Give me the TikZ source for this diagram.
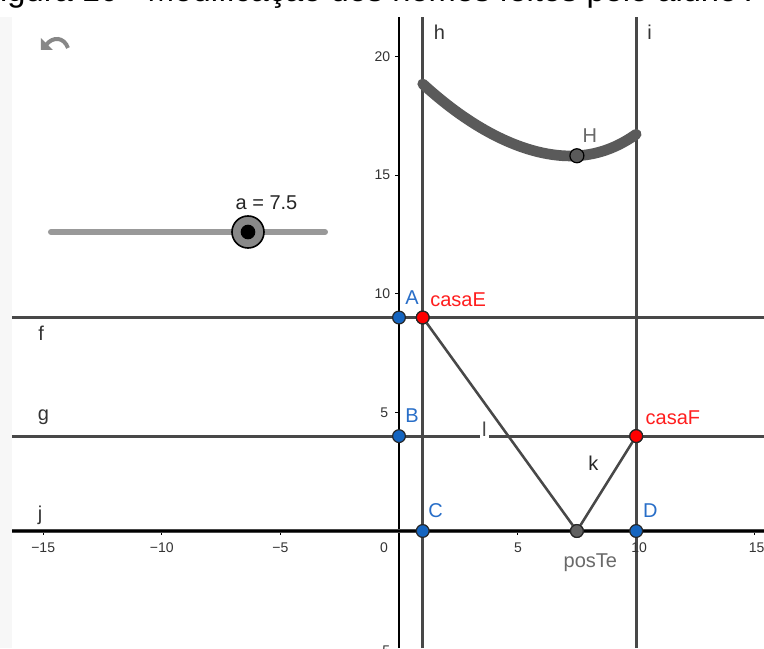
\documentclass[tikz,border=0pt]{standalone}
\usepackage{fontspec}
\setmainfont{Liberation Sans}
\definecolor{ptblue}{RGB}{21,101,192}
\definecolor{lblblue}{RGB}{40,110,200}
\definecolor{ptred}{RGB}{255,0,0}
\definecolor{lblred}{RGB}{255,30,30}
\definecolor{lngray}{RGB}{72,72,72}
\definecolor{crvgray}{RGB}{90,90,90}
\definecolor{ptgray}{RGB}{97,97,97}
\definecolor{lblgray}{RGB}{105,105,105}
\definecolor{sldgray}{RGB}{153,153,153}
\definecolor{knobgray}{RGB}{136,136,136}
\definecolor{icongray}{RGB}{135,135,135}
\definecolor{stripgray}{RGB}{247,247,247}
\begin{document}
\begin{tikzpicture}[x=17.79pt,y=17.79pt,
  gline/.style={draw=lngray,line width=2.3pt},
  seg/.style={draw=lngray,line width=1.9pt},
  axis/.style={draw=black,line width=0.9pt},
  tickmark/.style={draw=black,line width=0.8pt},
  crv/.style={draw=crvgray,line width=8pt,line cap=round},
  pt/.style={circle,draw=black!85,line width=0.9pt,inner sep=0pt,minimum size=9.6pt},
  bluept/.style={pt,fill=ptblue},
  redpt/.style={pt,fill=ptred},
  graypt/.style={pt,fill=ptgray},
  lbl/.style={font=\fontsize{15}{18}\selectfont,inner sep=0pt},
  axlbl/.style={font=\fontsize{10.5}{12}\selectfont,text=black!80,inner sep=0pt},
]
\useasboundingbox (-16.821,-4.933) rectangle (15.388,22.386);
\fill[white] (-16.821,-4.933) rectangle (15.388,22.386);
\fill[stripgray] (-16.821,-4.933) rectangle (-16.32,21.67);

\begin{scope}
\clip (-16.32,-4.933) rectangle (15.388,21.67);
% frame coordinates
\coordinate (xl) at (-16.32,0);
\coordinate (xr) at (15.388,0);
\coordinate (yb) at (0,-4.933);
\coordinate (yt) at (0,21.67);
% axes
\draw[axis] (yb) -- (yt);
\foreach \v in {-5,5,10,15,20} \draw[tickmark] (0,\v) -- (-0.17,\v);
\foreach \v in {-15,-10,-5,5,10,15} \draw[tickmark] (\v,0) -- (\v,-0.17);
% lines f g j h i
\coordinate (fL) at (-16.32,9);   \coordinate (fR) at (15.388,9);
\coordinate (gL) at (-16.32,4);   \coordinate (gR) at (15.388,4);
\coordinate (hB) at (1,-4.933);   \coordinate (hT) at (1,21.67);
\coordinate (iB) at (10,-4.933);  \coordinate (iT) at (10,21.67);
\draw[gline] (fL) -- (fR);
\draw[gline] (gL) -- (gR);
\draw[gline] (xl) -- (xr);
\draw[axis] (xl) -- (xr);
\draw[gline] (hB) -- (hT);
\draw[gline] (iB) -- (iT);
% curve
\draw[crv] plot[domain=1:10,samples=80,smooth] (\x,{sqrt((\x-1)^2+81)+sqrt((10-\x)^2+16)});
% points
\node[bluept] (A) at (0,9) {};
\node[bluept] (B) at (0,4) {};
\node[bluept] (C) at (1,0) {};
\node[bluept] (D) at (10,0) {};
\node[redpt] (casaE) at (1,9) {};
\node[redpt] (casaF) at (10,4) {};
\node[graypt] (posTe) at (7.5,0) {};
% segments
\draw[seg] (casaE) -- (posTe);
\draw[seg] (posTe) -- (casaF);
\node[redpt] at (casaE) {};
\node[redpt] at (casaF) {};
\node[graypt] at (posTe) {};
\node[pt,fill=crvgray,draw=black,minimum size=10.5pt] (H) at (7.5,15.819) {};
% labels
\node[lbl,text=lblblue] (lA) at (0.55,9.82) {A};
\node[lbl,text=lblred] (lcasaE) at (2.49,9.76) {casaE};
\node[lbl,text=lblblue] (lB) at (0.55,4.87) {B};
\node[lbl,text=lblred] (lcasaF) at (11.55,4.78) {casaF};
\node[lbl,text=lblblue] (lC) at (1.54,0.84) {C};
\node[lbl,text=lblblue] (lD) at (10.60,0.84) {D};
\node[lbl,text=lblgray] (lposTe) at (8.07,-1.33) {posTe};
\node[lbl,text=lblgray] (lH) at (8.05,16.65) {H};
\node[lbl,text=lngray,fill=white,inner xsep=1.5pt,inner ysep=1pt] (ll) at (3.60,4.28) {l};
\node[lbl,text=black!85] (lk) at (8.20,2.85) {k};
\node[lbl,text=black!80] (lf) at (-15.09,8.35) {f};
\node[lbl,text=black!80] (lg) at (-14.99,4.80) {g};
\node[lbl,text=black!80] (lj) at (-15.13,0.65) {j};
\node[lbl,text=black!80] (lh) at (1.71,21.04) {h};
\node[lbl,text=black!80] (li) at (10.56,21.04) {i};
% axis numbers
\node[axlbl] (xm15) at (-15,-0.70) {−15};
\node[axlbl] (xm10) at (-10,-0.70) {−10};
\node[axlbl] (xm5) at (-5,-0.70) {−5};
\node[axlbl] (x0) at (-0.63,-0.70) {0};
\node[axlbl] (x5) at (5.02,-0.70) {5};
\node[axlbl] (x10) at (10.12,-0.70) {10};
\node[axlbl] (x15) at (15.08,-0.70) {15};
\node[axlbl,anchor=east] (y20) at (-0.36,20) {20};
\node[axlbl,anchor=east] (y15) at (-0.36,15) {15};
\node[axlbl,anchor=east] (y10) at (-0.36,10) {10};
\node[axlbl,anchor=east] (y5) at (-0.45,5) {5};
\node[axlbl,anchor=east] (ym5) at (-0.36,-5.05) {−5};
\end{scope}

% pixel-based elements
\begin{scope}[shift={(-16.821,22.386)},x=0.75pt,y=-0.75pt]
  % caption (cut off at the top)
  \begin{scope}
    \clip (0,0) rectangle (764,16);
    \node[anchor=base west,inner sep=0pt,font=\fontsize{24.5}{28}\selectfont] (caption) at (-20,2) {Figura 10 - Modificação dos nomes feitos pelo aluno A};
  \end{scope}
  % undo icon
  \fill[icongray] (41,38) -- (41,50) -- (53,50) -- cycle;
  \draw[icongray,line width=3pt] (46,45) .. controls (53,36) and (64,37) .. (68,48);
  % slider
  \coordinate (sL) at (51,232);
  \coordinate (sR) at (325,232);
  \draw[sldgray,line width=4.5pt,line cap=round] (sL) -- (sR);
  \node[circle,fill=knobgray,draw=black,line width=1.2pt,minimum size=24pt,inner sep=0pt] (knob) at (248,232) {};
  \node[circle,fill=black,minimum size=11pt,inner sep=0pt] (knobdot) at (knob) {};
  \node[lbl,text=black!85] (alabel) at (266.5,203) {a = 7.5};
\end{scope}
\end{tikzpicture}
\end{document}
